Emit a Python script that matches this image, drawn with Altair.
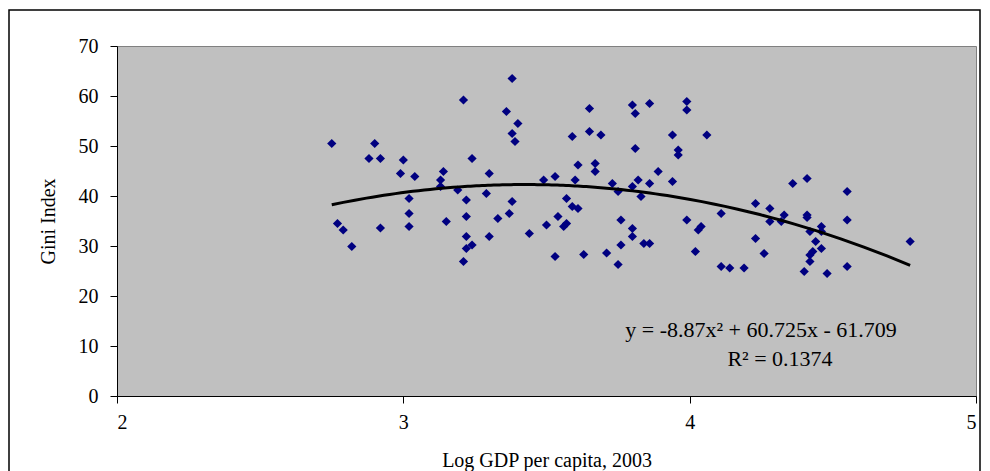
import altair as alt
import pandas as pd

# Log GDP per capita (x) and Gini index (y)
log_gdp = [
    3.21, 2.75, 2.90, 2.88, 2.92, 3.00, 3.24, 2.99, 3.04, 3.14,
    3.13, 3.13, 3.19, 3.02, 3.22, 3.02, 3.22, 2.77, 2.79, 2.92,
    3.02, 3.15, 3.22, 3.22, 3.24, 2.82, 3.21, 3.38, 3.36, 3.40,
    3.38, 3.39, 3.65, 3.59, 3.65, 3.69, 3.30, 3.61, 3.67, 3.67,
    3.49, 3.53, 3.60, 3.73, 3.75, 3.29, 3.38, 3.57, 3.59, 3.61,
    3.37, 3.33, 3.54, 3.50, 3.57, 3.56, 3.76, 3.30, 3.44, 3.76,
    3.53, 3.63, 3.71, 3.75, 3.80, 3.81, 3.86, 3.99, 3.99, 3.94,
    4.06, 3.81, 3.96, 3.96, 3.89, 3.82, 3.86, 3.94, 3.80, 3.83,
    4.23, 4.28, 4.28, 4.11, 3.99, 3.80, 3.80, 4.04, 4.03, 3.84,
    3.86, 4.02, 4.23, 4.26, 4.11, 4.14, 4.19, 4.36, 4.41, 4.55,
    4.33, 4.32, 4.41, 4.41, 4.55, 4.46, 4.42, 4.46, 4.44, 4.46,
    4.43, 4.42, 4.42, 4.40, 4.48, 4.55, 4.77,
]
gini = [
    59.2, 50.5, 50.5, 47.5, 47.5, 47.2, 47.5, 44.5, 43.9, 44.9,
    43.2, 41.9, 41.2, 39.5, 39.2, 36.5, 35.9, 34.5, 33.2, 33.6,
    33.9, 34.9, 31.9, 29.5, 30.2, 29.9, 26.9, 63.5, 56.9, 54.5,
    52.5, 50.9, 57.5, 51.9, 52.9, 52.2, 44.5, 46.2, 46.5, 44.9,
    43.2, 43.9, 43.2, 42.5, 40.9, 40.5, 38.9, 39.5, 37.9, 37.5,
    36.5, 35.5, 35.9, 34.2, 34.5, 33.9, 35.2, 31.9, 32.5, 30.2,
    27.9, 28.3, 28.6, 26.3, 58.2, 56.5, 58.5, 58.9, 57.2, 52.2,
    52.2, 49.5, 49.2, 48.2, 44.9, 43.2, 42.5, 42.9, 41.9, 39.9,
    38.5, 37.5, 34.9, 36.5, 35.2, 33.5, 31.9, 33.9, 33.2, 30.5,
    30.5, 28.9, 31.5, 28.5, 25.9, 25.6, 25.6, 42.5, 43.5, 40.9,
    36.2, 34.9, 36.2, 35.7, 35.2, 33.9, 32.9, 32.9, 30.9, 29.5,
    28.9, 28.2, 26.9, 24.9, 24.5, 25.9, 30.9,
]

x_ticks = [2, 3, 4, 5]
y_ticks = [0, 10, 20, 30, 40, 50, 60, 70]

equation_text = "y = -8.87x\u00b2 + 60.725x - 61.709"
r2_text = "R\u00b2 = 0.1374"

FONT = "Liberation Serif"

df = pd.DataFrame({"x": log_gdp, "y": gini})
one = pd.DataFrame({"a": [0]})

x_enc = alt.X(
    "x:Q",
    scale=alt.Scale(domain=[2, 5], nice=False, zero=False),
    axis=alt.Axis(values=x_ticks, title="Log GDP per capita, 2003", format="d"),
)
y_enc = alt.Y(
    "y:Q",
    scale=alt.Scale(domain=[0, 70], nice=False),
    axis=alt.Axis(values=y_ticks, title="Gini Index", format="d"),
)

points = alt.Chart(df).mark_point(
    shape="diamond", filled=True, color="#000080", size=85, opacity=1
).encode(x=x_enc, y=y_enc)

trend = (
    alt.Chart(df)
    .transform_regression("x", "y", method="poly", order=2)
    .mark_line(color="black", strokeWidth=3)
    .encode(x="x:Q", y="y:Q")
)

eq = alt.Chart(one).mark_text(
    text=equation_text, font=FONT, fontSize=22, color="black", align="center", baseline="alphabetic"
).encode(x=alt.value(644), y=alt.value(291))

r2 = alt.Chart(one).mark_text(
    text=r2_text, font=FONT, fontSize=22, color="black", align="center", baseline="alphabetic"
).encode(x=alt.value(663), y=alt.value(320))

border = alt.Chart(one).mark_rect(
    filled=False, stroke="black", strokeWidth=1.5
).encode(
    x=alt.value(-108), x2=alt.value(863), y=alt.value(-36), y2=alt.value(460)
)

chart = (
    alt.layer(border, points, trend, eq, r2)
    .properties(
        width=859,
        height=350,
        background="white",
        autosize=alt.AutoSizeParams(type="none"),
        padding={"left": 109, "top": 38, "right": 6, "bottom": 80},
    )
    .configure_view(fill="#C0C0C0", stroke="#808080", strokeWidth=1)
    .configure_axis(
        grid=False,
        domainColor="black",
        domainWidth=1,
        tickColor="black",
        tickSize=7,
        labelFont=FONT,
        labelFontSize=20,
        labelColor="black",
        titleFont=FONT,
        titleFontSize=20,
        titleFontWeight="normal",
        titleColor="black",
        labelPadding=9,
    )
    .configure_axisY(titlePadding=20, labelPadding=12)
    .configure_axisX(titlePadding=18)
)

chart.save("out.html", embed_options={"renderer": "svg", "actions": False})
